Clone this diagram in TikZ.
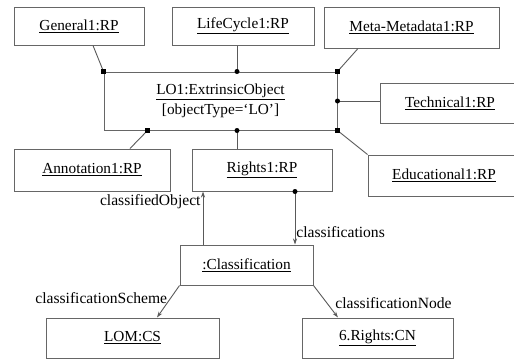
\documentclass[tikz,border=0pt]{standalone}
\usepackage{fontspec}
\setmainfont{Liberation Serif}
\usetikzlibrary{arrows.meta,calc}

\tikzset{
  rpbox/.style={draw=black!60,line width=1pt,rectangle,inner sep=0pt,
    font=\fontsize{15.3}{19.5}\selectfont,align=center},
  link/.style={draw=black!65,line width=0.9pt},
  navarrow/.style={link,-{Stealth[length=6pt,width=4pt]}},
  rolelabel/.style={font=\fontsize{15.6}{17}\selectfont,inner sep=0pt}
}

\begin{document}
\begin{tikzpicture}[x=1pt,y=-1pt]
  \useasboundingbox (0,0) rectangle (514,360);
  \clip (0,0) rectangle (514,360);

  \node[rpbox,minimum width=130pt,minimum height=38pt] (gen) at (79,26) {\underline{General1:RP}};
  \node[rpbox,minimum width=142pt,minimum height=38pt] (life) at (243,26) {\underline{LifeCycle1:RP}};
  \node[rpbox,minimum width=175pt,minimum height=41pt] (meta) at (411.5,27.5) {\underline{Meta-Metadata1:RP}};
  \node[rpbox,minimum width=233pt,minimum height=58pt] (lo) at (220.5,101)
    {\underline{LO1:ExtrinsicObject}\\{[objectType=`LO']}};
  \node[rpbox,minimum width=140pt,minimum height=40pt] (tech) at (450,103) {\underline{Technical1:RP}};
  \node[rpbox,minimum width=152pt,minimum height=41pt] (edu) at (444,175.5) {\underline{Educational1:RP}};
  \node[rpbox,minimum width=156pt,minimum height=42pt] (ann) at (92,170) {\underline{Annotation1:RP}};
  \node[rpbox,minimum width=140pt,minimum height=42pt] (rights) at (262,170) {\underline{Rights1:RP}};
  \node[rpbox,minimum width=133pt,minimum height=40pt] (class) at (246.5,265) {\underline{:Classification}};
  \node[rpbox,minimum width=173pt,minimum height=40pt] (lom) at (132.5,338) {\underline{LOM:CS}};
  \node[rpbox,minimum width=151pt,minimum height=40pt] (cnode) at (377.5,338) {\underline{6.Rights:CN}};

  % attachment points on LO1
  \coordinate (lotop) at ($(lo.north)+(16.5,0)$);
  \coordinate (lobot) at ($(lo.south)+(16.5,0)$);
  \coordinate (loann) at ($(lo.south west)+(44,0)$);
  \coordinate (rsout) at ($(rights.south)+(33,0)$);
  \coordinate (cnout) at ($(class.north)+(-43.5,0)$);

  \draw[link] ($(gen.south)+(14,0)$) -- (lo.north west);
  \draw[link] ($(life.south)+(-6,0)$) -- (lotop);
  \draw[link] ($(meta.south)+(-53.5,0)$) -- (lo.north east);
  \draw[link] (lo.east) -- (lo.east -| tech.west);
  \draw[link] (edu.north west) -- (lo.south east);
  \draw[link] ($(ann.north)+(38,0)$) -- (loann);
  \draw[link] ($(rights.north)+(-25,0)$) -- (lobot);

  \draw[navarrow] (rsout) -- (rsout |- class.north)
    node[pos=0.76,right,rolelabel,xshift=1pt] {classifications};
  \draw[navarrow] (cnout) -- (cnout |- rights.south)
    node[pos=0.8,left,rolelabel,xshift=-2pt] {classifiedObject};
  \draw[navarrow] (class.south west) -- ($(lom.north)+(24.5,0)$)
    node[pos=0.4,left,rolelabel,xshift=-3pt] {classificationScheme};
  \draw[navarrow] (class.south east) -- ($(cnode.north)+(-39.5,0)$)
    node[pos=0.55,right,rolelabel,xshift=8pt] {classificationNode};

  \foreach \n in {lo.north west,lo.north east,lo.south east,loann}
    \node at (\n)[rectangle,fill,inner sep=0pt,minimum size=4.5pt]{};
  \foreach \n in {lotop,lobot,lo.east,rsout}
    \node at (\n)[circle,fill,inner sep=0pt,minimum size=5pt]{};
\end{tikzpicture}
\end{document}
